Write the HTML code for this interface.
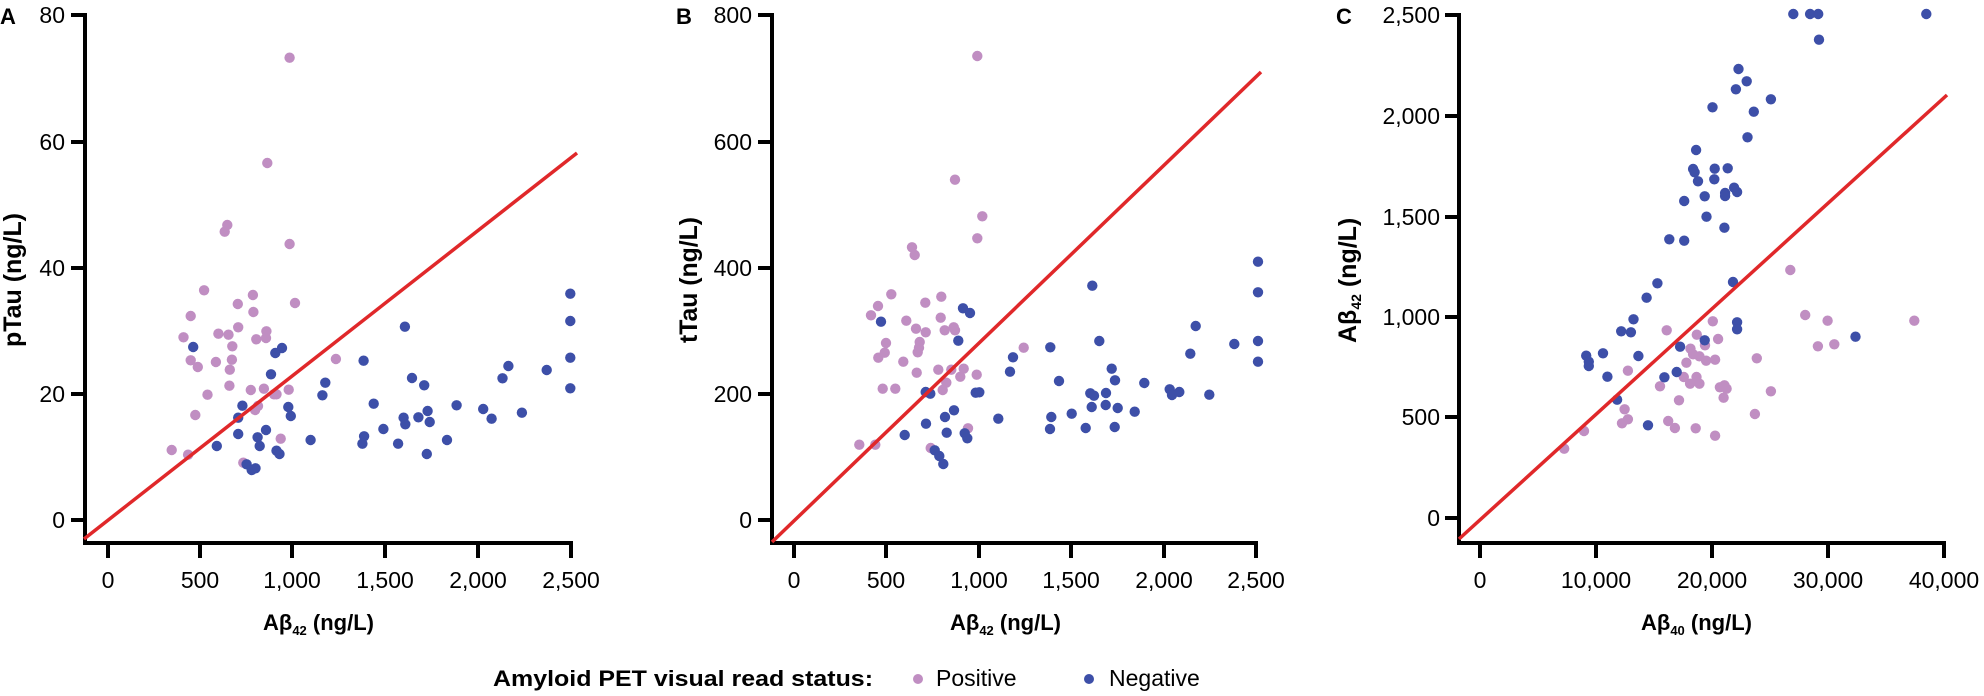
<!DOCTYPE html>
<html><head><meta charset="utf-8"><style>
html,body{margin:0;padding:0;background:#fff;}
svg{display:block;font-family:"Liberation Sans",Arial,sans-serif;}
.t{font-size:23px;fill:#000;}
.b{font-weight:bold;fill:#000;}
</style></head><body>
<svg id="s" width="1984" height="696" viewBox="0 0 1984 696" xmlns="http://www.w3.org/2000/svg">
<g stroke="#000" stroke-width="4" fill="none" stroke-linecap="butt">
<!-- Panel A axes -->
<path d="M85,13 V545 M83,543 H573"/>
<path d="M71,15 H85 M71,142 H85 M71,268 H85 M71,394 H85 M71,520 H85"/>
<path d="M108,543 V558 M200,543 V558 M292,543 V558 M385,543 V558 M478,543 V558 M571,543 V558"/>
<!-- Panel B axes -->
<path d="M772,13 V545 M770,543 H1258"/>
<path d="M758,15 H772 M758,142 H772 M758,268 H772 M758,394 H772 M758,520 H772"/>
<path d="M794,543 V558 M886,543 V558 M979,543 V558 M1071,543 V558 M1164,543 V558 M1256,543 V558"/>
<!-- Panel C axes -->
<path d="M1459,13 V545 M1457,543 H1946"/>
<path d="M1445,15 H1459 M1445,116 H1459 M1445,217 H1459 M1445,317 H1459 M1445,417 H1459 M1445,518 H1459"/>
<path d="M1480,543 V558 M1596,543 V558 M1712,543 V558 M1828,543 V558 M1944,543 V558"/>
</g>
<g id="pts"></g>
<g stroke="#e0282a" stroke-width="3.5">
<line x1="84" y1="539" x2="577" y2="153"/>
<line x1="772" y1="542" x2="1261" y2="72"/>
<line x1="1459" y1="539" x2="1947" y2="95"/>
</g>
<!-- labels -->
<g class="t" text-anchor="end">
<text x="65" y="23">80</text><text x="65" y="150">60</text><text x="65" y="276">40</text><text x="65" y="402">20</text><text x="65" y="528">0</text>
<text x="752" y="23">800</text><text x="752" y="150">600</text><text x="752" y="276">400</text><text x="752" y="402">200</text><text x="752" y="528">0</text>
<text x="1440" y="23">2,500</text><text x="1440" y="124">2,000</text><text x="1440" y="225">1,500</text><text x="1440" y="325">1,000</text><text x="1440" y="425">500</text><text x="1440" y="526">0</text>
</g>
<g class="t" text-anchor="middle">
<text x="108" y="588">0</text><text x="200" y="588">500</text><text x="292" y="588">1,000</text><text x="385" y="588">1,500</text><text x="478" y="588">2,000</text><text x="571" y="588">2,500</text>
<text x="794" y="588">0</text><text x="886" y="588">500</text><text x="979" y="588">1,000</text><text x="1071" y="588">1,500</text><text x="1164" y="588">2,000</text><text x="1256" y="588">2,500</text>
<text x="1480" y="588">0</text><text x="1596" y="588">10,000</text><text x="1712" y="588">20,000</text><text x="1828" y="588">30,000</text><text x="1944" y="588">40,000</text>
</g>
<g class="b" font-size="22">
<text x="0" y="24" font-size="22">A</text>
<text x="676" y="24" font-size="22">B</text>
<text x="1336" y="24" font-size="22">C</text>
<text x="263" y="630">Aβ<tspan font-size="13" dy="5">42</tspan><tspan dy="-5"> (ng/L)</tspan></text>
<text x="950" y="630">Aβ<tspan font-size="13" dy="5">42</tspan><tspan dy="-5"> (ng/L)</tspan></text>
<text x="1641" y="630">Aβ<tspan font-size="13" dy="5">40</tspan><tspan dy="-5"> (ng/L)</tspan></text>
<text transform="translate(21,280) rotate(-90)" text-anchor="middle" font-size="25" textLength="134" lengthAdjust="spacingAndGlyphs">pTau (ng/L)</text>
<text transform="translate(697,280) rotate(-90)" text-anchor="middle" font-size="25" textLength="126" lengthAdjust="spacingAndGlyphs">tTau (ng/L)</text>
<text transform="translate(1356,280) rotate(-90)" font-size="25" x="-63">Aβ<tspan font-size="14" dy="5">42</tspan><tspan dy="-5"> (ng/L)</tspan></text>
<text x="493" y="686" textLength="380" lengthAdjust="spacingAndGlyphs">Amyloid PET visual read status:</text>
</g>
<circle cx="918" cy="679" r="5" fill="#c08ec2"/>
<circle cx="1089" cy="679" r="5" fill="#3d4fa8"/>
<text class="t" x="936" y="686" font-size="22">Positive</text>
<text class="t" x="1109" y="686" font-size="22">Negative</text>
</svg>
<script>
var P="#c08ec2",B="#3d4fa8";
var aP=[[688,173],[635,489],[540,675],[534,695],[688,732],[485,871],[601,885],[701,909],[565,912],[453,948],[602,936],[566,982],[436,1012],[519,1001],[543,1004],[633,994],[609,1018],[632,1014],[552,1039],[453,1081],[470,1101],[513,1086],[551,1079],[546,1109],[798,1077],[545,1157],[596,1170],[627,1166],[686,1169],[651,1183],[657,1183],[493,1184],[464,1245],[613,1218],[606,1230],[667,1316],[408,1350],[447,1364],[578,1388]];
var aB=[[459,1041],[670,1044],[654,1059],[644,1123],[864,1082],[962,980],[1355,881],[1355,963],[1355,1073],[1355,1165],[979,1134],[1008,1156],[773,1148],[766,1186],[1194,1135],[1208,1098],[1299,1110],[576,1217],[685,1221],[691,1248],[888,1211],[566,1253],[959,1253],[994,1252],[1016,1233],[1085,1216],[1148,1227],[1168,1256],[1240,1238],[963,1273],[1021,1266],[632,1290],[911,1287],[566,1302],[612,1312],[865,1309],[861,1331],[946,1331],[738,1320],[1062,1320],[617,1338],[515,1338],[657,1352],[664,1362],[1014,1362],[586,1393],[598,1410],[607,1405]];
var bP=[[1252,168],[1185,539],[1267,649],[1252,715],[1056,742],[1064,765],[994,883],[1144,890],[954,918],[1096,908],[933,946],[1142,953],[1039,962],[1068,986],[1181,982],[1154,991],[1185,991],[1097,997],[978,1029],[1079,1026],[1077,1043],[1073,1057],[974,1058],[955,1073],[1030,1085],[1391,1043],[1135,1109],[1174,1109],[1211,1106],[1070,1118],[1201,1130],[1250,1124],[1159,1148],[1148,1170],[968,1166],[1006,1166],[1224,1285],[898,1334],[946,1334],[1112,1344]];
var bB=[[963,965],[1209,925],[1230,939],[1195,1022],[1471,1042],[1359,1072],[1350,1115],[1497,1143],[1097,1176],[1111,1181],[1247,1178],[1258,1177],[1182,1231],[1155,1251],[1315,1256],[1474,1251],[1470,1287],[1098,1271],[1034,1305],[1160,1298],[1214,1300],[1222,1315],[1124,1351],[1138,1368],[1150,1392]];
var bB2=[[97,857],[594,785],[594,877],[118,1023],[407,978],[391,1061],[523,1032],[594,1023],[594,1085],[155,1106],[165,1141],[253,1149],[91,1180],[102,1187],[138,1179],[329,1168],[336,1185],[358,1176],[448,1184],[35,1241],[95,1221],[137,1215],[173,1224],[224,1235],[77,1284],[164,1281]];
var cB=[[1056,42],[1101,42],[1123,42],[1413,42],[1125,119],[909,207],[931,244],[902,268],[996,298],[839,322],[950,335],[933,412],[795,450],[787,507],[791,517],[845,506],[880,505],[800,544],[844,538],[818,589],[873,579],[897,563],[905,576],[873,588],[763,603],[823,650],[871,683],[723,718],[763,722],[894,846],[691,850],[662,893],[627,958],[905,967],[905,988],[594,994],[620,997],[1223,1010],[818,1021],[545,1060],[500,1067],[640,1068],[752,1040],[507,1085],[507,1098],[557,1130],[710,1132],[743,1116],[583,1199],[666,1276]];
var cP=[[1048,810],[1088,945],[840,964],[1148,962],[1381,962],[716,991],[797,1004],[854,1017],[819,1036],[1122,1039],[1166,1033],[780,1046],[787,1063],[804,1069],[822,1082],[846,1079],[958,1075],[769,1088],[612,1112],[762,1131],[796,1131],[779,1151],[804,1151],[698,1159],[859,1162],[871,1156],[877,1166],[996,1174],[869,1193],[749,1201],[603,1228],[612,1258],[596,1270],[720,1263],[738,1284],[794,1285],[846,1307],[953,1242],[494,1293],[441,1346]];
var g=document.getElementById("pts"),h="";
function add(a,fx,ox,col){a.forEach(function(p){h+='<circle cx="'+(p[0]/fx+ox).toFixed(1)+'" cy="'+(p[1]/3).toFixed(1)+'" r="5.2" fill="'+col+'"/>';});}
add(aP,2.376,0,P);add(aB,2.376,0,B);
add(bP,3,560,P);add(bB,3,560,B);add(bB2,3,1060,B);
add(cP,2.685,1400,P);add(cB,2.685,1400,B);
g.innerHTML=h;
</script>
</body></html>
